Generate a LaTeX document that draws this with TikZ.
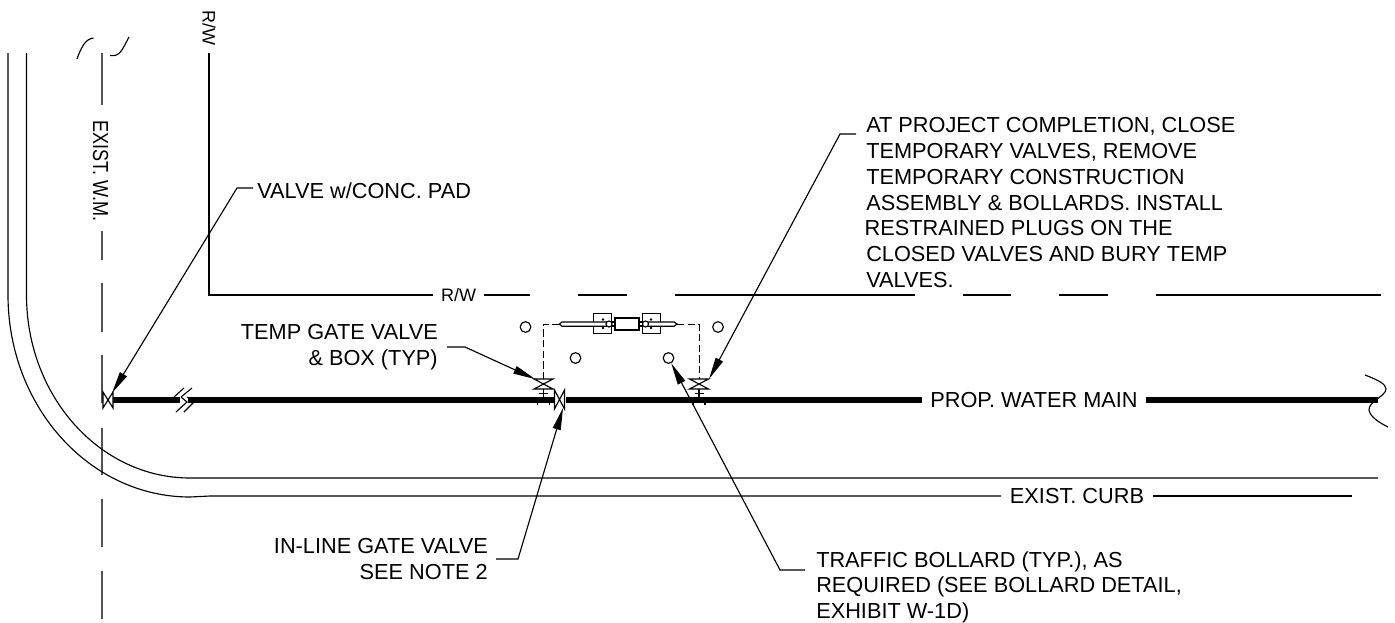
\documentclass[tikz,border=0pt]{standalone}
\usepackage{fontspec}
\setmainfont{Liberation Sans}
\usetikzlibrary{arrows.meta}
\tikzset{
  x=0.75pt,y=-0.75pt,
  thin line/.style={line width=0.85pt,black},
  gray line/.style={line width=1.1pt,draw=black!68},
  main/.style={line width=4.2pt,black},
  leader/.style={line width=0.85pt,black,-{Stealth[length=16.5pt,width=6pt,inset=0pt]},shorten >=0pt},
  dash pipe/.style={line width=0.75pt,black,dash pattern=on 5.5pt off 2.5pt},
  bollard/.style={circle,draw=black,line width=0.85pt,minimum size=8pt,inner sep=0pt},
  lbl/.style={font=\fontsize{16.3}{19.3}\selectfont,inner sep=0pt,text=black},
  lblsmall/.style={font=\fontsize{13.5}{19.3}\selectfont,inner sep=0pt,text=black},
  fit box/.style={draw=black,line width=0.85pt,fill=white},
}
\begin{document}
\begin{tikzpicture}
\useasboundingbox (0,0) rectangle (1395,622);
\fill[white] (0,0) rectangle (1395,622);

% existing water main centre line
\node[lbl,rotate=-90] (wm) at (100.5,171) {\scalebox{0.83}[1]{EXIST. W.M.}};
\foreach \a/\b in {53/105,231/260,283/332,355/403,428/475,499/547,571/619}
  \draw[gray line] (102,\a) -- (102,\b);

% top squiggles
\draw[thin line] (77,59) .. controls (81,48) and (85,39) .. (93.5,38);
\draw[thin line] (110,55.5) .. controls (120,57) and (122,50) .. (129,37);

% right of way
\node[lblsmall,rotate=-90] (rwv) at (209,27.5) {R/W};
\node[lblsmall,inner xsep=6pt] (rwh) at (458.5,295) {R/W};
\coordinate (rwtop) at (209,53);
\coordinate (rwcorner) at (209,295);
\draw[thin line] (rwtop) -- (rwcorner) -- (rwh.west);
\coordinate (rwa) at (530,295);
\draw[thin line] (rwh.east) -- (rwa);
\foreach \a/\b in {578/627,675/915,963/1011,1059/1108,1156/1381}
  \draw[thin line] (\a,295) -- (\b,295);

% curbs
\node[lbl,inner xsep=6.5pt] (curb) at (1077,496) {EXIST. CURB};
\draw[thin line] (8,53) -- (8,295) arc[start angle=180,end angle=90,x radius=182,y radius=202] -- (210,496) -- (curb.west);
\draw[thin line] (26.5,53) -- (26.5,295) arc[start angle=180,end angle=90,x radius=163.5,y radius=183] -- (1378,478);
\coordinate (curbend) at (1352,496);
\draw[thin line] (curb.east) -- (curbend);

% proposed water main
\node[lbl,inner xsep=6pt] (prop) at (1034,400) {PROP. WATER MAIN};
\coordinate (m0) at (113,400);
\coordinate (m1) at (182,400);
\coordinate (m2) at (187,400);
\coordinate (m3) at (555,400);
\coordinate (m4) at (566,400);
\coordinate (m5) at (1378,400);
\draw[main] (m0) -- (m1);
\draw[main] (m2) -- (m3);
\draw[main] (m4) -- (prop.west);
\draw[main] (prop.east) -- (m5);

% pipe break
\fill[white] (180,396) rectangle (188,404);
\draw[thin line] (174,397) -- (184,388);
\draw[thin line] (181,397) -- (192,388);
\draw[thin line] (181,397) -- (187,402) -- (176,412);
\draw[thin line] (187,397) -- (194,402) -- (184,412);

% right squiggle
\draw[thin line] (1365,375) .. controls (1378,380) and (1386,384) .. (1386,389)
  .. controls (1386,396) and (1368,402) .. (1369,410)
  .. controls (1370,417) and (1380,423) .. (1388,427);

% valves on line
\draw[thin line,fill=white] (103,392) -- (113,408) -- (113,392) -- (103,408) -- cycle;
\draw[thin line,fill=white] (554.5,390) -- (564.5,409) -- (564.5,390) -- (554.5,409) -- cycle;

% temp valves
\foreach \c in {543.5,699}{
  \draw[thin line,fill=white] (\c-9.5,379) -- (\c+9.5,389) -- (\c-9.5,389) -- (\c+9.5,379) -- cycle;
  \draw[thin line] (\c,389) -- (\c,398);
  \draw[thin line] (\c-4.5,393.5) -- (\c+4.5,393.5);
  \draw[thin line] (\c-6,398) -- (\c-6,405);
  \draw[thin line] (\c+6,398) -- (\c+6,405);
}

% temporary construction assembly
\coordinate (tl) at (559.5,324);
\coordinate (tr) at (677,324);
\coordinate (vl) at (543.5,379);
\coordinate (vr) at (699,379);
\draw[dash pipe] (tl) -- (543.5,324) -- (vl);
\draw[dash pipe] (tr) -- (699,324) -- (vr);
\node[fit box,minimum width=14pt,minimum height=15.5pt,inner sep=0pt] (bl) at (602.5,323.5) {};
\node[fit box,minimum width=14pt,minimum height=15.5pt,inner sep=0pt] (br) at (651.5,323.5) {};
\node[fit box,minimum width=18pt,minimum height=9pt,inner sep=0pt] (bc) at (627,324) {};
\draw[thin line,fill=white] (609,322) -- (562,322) -- (559.5,324) -- (562,326.3) -- (609,326.3);
\draw[thin line,fill=white] (645,322) -- (674,322) -- (677,324) -- (674,326.3) -- (645,326.3);
\draw[thin line] (612,322) -- (615,322) (612,326) -- (615,326);
\draw[thin line] (639,322) -- (642,322) (639,326) -- (642,326);
\draw[thin line,fill=white] (609,324) circle[radius=3];
\draw[thin line,fill=white] (645.5,324) circle[radius=3];
\foreach \p in {(603,319.5),(603,328),(651,319.5),(651,328)}
  \fill \p circle[radius=1.3];

% bollards
\node[bollard] (b1) at (525.5,327) {};
\node[bollard] (b2) at (718,327) {};
\node[bollard] (b3) at (575.5,358) {};
\node[bollard] (b4) at (668.5,358) {};

% leaders and labels
\node[lbl,anchor=west] (valvepad) at (257,191) {VALVE w/CONC. PAD};
\coordinate (l1a) at (253,188);
\coordinate (l1b) at (237,188);
\coordinate (t1) at (112,393);
\draw[leader] (l1a) -- (l1b) -- (t1);

\node[lbl,anchor=north east,align=right] (tempv) at (438,324) {TEMP GATE VALVE\\\& BOX (TYP)};
\coordinate (l2a) at (447,347);
\coordinate (l2b) at (465,347);
\coordinate (t2) at (535,379);
\draw[leader] (l2a) -- (l2b) -- (t2);

\node[lbl,anchor=north east,align=right] (inline) at (488,538) {IN-LINE GATE VALVE\\SEE NOTE 2};
\coordinate (l3a) at (496,559);
\coordinate (l3b) at (518,559);
\coordinate (t3) at (563,408);
\draw[leader] (l3a) -- (l3b) -- (t3);

\node[lbl,anchor=north west,align=left] (bollardtxt) at (816,551) {TRAFFIC BOLLARD (TYP.), AS\\REQUIRED (SEE BOLLARD DETAIL,\\EXHIBIT W-1D)};
\coordinate (l4a) at (805,570);
\coordinate (l4b) at (780,570);
\draw[leader] (l4a) -- (l4b) -- (b4);

\node[lbl,anchor=north west,align=left] (atproj) at (866,117.5) {AT PROJECT COMPLETION, CLOSE\\TEMPORARY VALVES, REMOVE\\TEMPORARY CONSTRUCTION\\ASSEMBLY \& BOLLARDS. INSTALL\\\hspace*{-1.2pt}RESTRAINED PLUGS ON THE\\CLOSED VALVES AND BURY TEMP\\VALVES.};
\coordinate (l5a) at (856,134);
\coordinate (l5b) at (840,134);
\coordinate (t5) at (709,379);
\draw[leader] (l5a) -- (l5b) -- (t5);
\end{tikzpicture}
\end{document}
